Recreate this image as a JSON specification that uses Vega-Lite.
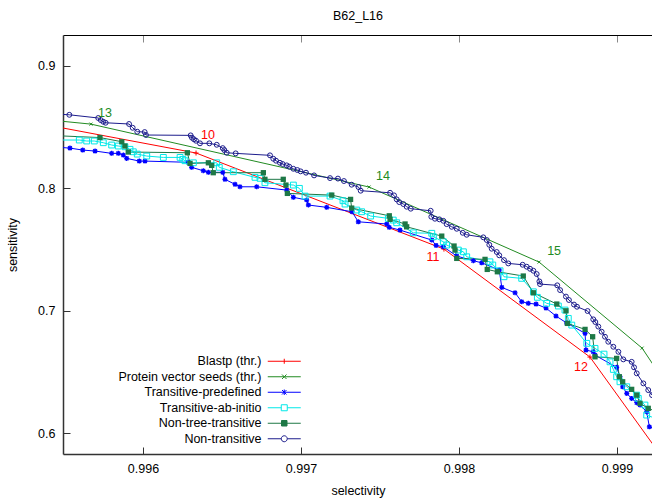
{
"$schema":"https://vega.github.io/schema/vega-lite/v6.json",
"width":590,"height":419,
"autosize":"none",
"padding":{"left":63,"top":35,"right":0,"bottom":44},
"title":{"text":"B62_L16","fontSize":12.5,"font":"Liberation Sans","fontWeight":"normal","color":"black","offset":12},
"config":{"view":{"stroke":null},"font":"Liberation Sans"},
"datasets":{
"pts":[
{"s":"B","x":0.995300,"y":0.8539},{"s":"B","x":0.996336,"y":0.8288},{"s":"B","x":0.997905,"y":0.7503},{"s":"B","x":0.998829,"y":0.6621},{"s":"B","x":0.999500,"y":0.5420},
{"s":"P","x":0.995222,"y":0.8581},{"s":"P","x":0.995671,"y":0.8524},{"s":"P","x":0.997431,"y":0.8010},{"s":"P","x":0.998507,"y":0.7397},{"s":"P","x":0.999159,"y":0.6694},{"s":"P","x":0.999526,"y":0.5984},
{"s":"TP","x":0.995348,"y":0.8345},{"s":"TP","x":0.995538,"y":0.8328},{"s":"TP","x":0.995619,"y":0.8312},{"s":"TP","x":0.995697,"y":0.8304},{"s":"TP","x":0.995802,"y":0.8285},{"s":"TP","x":0.995844,"y":0.8285},{"s":"TP","x":0.995876,"y":0.8271},{"s":"TP","x":0.995897,"y":0.8244},{"s":"TP","x":0.995977,"y":0.8222},{"s":"TP","x":0.996013,"y":0.8222},{"s":"TP","x":0.996287,"y":0.8212},{"s":"TP","x":0.996308,"y":0.8171},{"s":"TP","x":0.996382,"y":0.8143},{"s":"TP","x":0.996414,"y":0.8130},{"s":"TP","x":0.996505,"y":0.8130},{"s":"TP","x":0.996519,"y":0.8073},{"s":"TP","x":0.996583,"y":0.8032},{"s":"TP","x":0.996614,"y":0.8012},{"s":"TP","x":0.996720,"y":0.8012},{"s":"TP","x":0.996910,"y":0.7985},{"s":"TP","x":0.996952,"y":0.7926},{"s":"TP","x":0.997036,"y":0.7904},{"s":"TP","x":0.997047,"y":0.7863},{"s":"TP","x":0.997163,"y":0.7844},{"s":"TP","x":0.997323,"y":0.7808},{"s":"TP","x":0.997363,"y":0.7726},{"s":"TP","x":0.997543,"y":0.7708},{"s":"TP","x":0.997559,"y":0.7681},{"s":"TP","x":0.997627,"y":0.7658},{"s":"TP","x":0.997828,"y":0.7577},{"s":"TP","x":0.997855,"y":0.7533},{"s":"TP","x":0.997901,"y":0.7522},{"s":"TP","x":0.997986,"y":0.7446},{"s":"TP","x":0.998091,"y":0.7408},{"s":"TP","x":0.998144,"y":0.7391},{"s":"TP","x":0.998255,"y":0.7332},{"s":"TP","x":0.998271,"y":0.7190},{"s":"TP","x":0.998355,"y":0.7146},{"s":"TP","x":0.998397,"y":0.7073},{"s":"TP","x":0.998439,"y":0.7060},{"s":"TP","x":0.998488,"y":0.7054},{"s":"TP","x":0.998551,"y":0.7021},{"s":"TP","x":0.998614,"y":0.6956},{"s":"TP","x":0.998682,"y":0.6899},{"s":"TP","x":0.998798,"y":0.6815},{"s":"TP","x":0.998804,"y":0.6678},{"s":"TP","x":0.998850,"y":0.6664},{"s":"TP","x":0.998861,"y":0.6637},{"s":"TP","x":0.998998,"y":0.6537},{"s":"TP","x":0.999019,"y":0.6460},{"s":"TP","x":0.999036,"y":0.6378},{"s":"TP","x":0.999062,"y":0.6324},{"s":"TP","x":0.999093,"y":0.6283},{"s":"TP","x":0.999125,"y":0.6248},{"s":"TP","x":0.999146,"y":0.6229},{"s":"TP","x":0.999188,"y":0.6174},{"s":"TP","x":0.999205,"y":0.6051},{"s":"TP","x":0.999304,"y":0.6008},
{"s":"TA","x":0.995348,"y":0.8394},{"s":"TA","x":0.995597,"y":0.8394},{"s":"TA","x":0.995644,"y":0.8386},{"s":"TA","x":0.995692,"y":0.8386},{"s":"TA","x":0.995749,"y":0.8372},{"s":"TA","x":0.995802,"y":0.8353},{"s":"TA","x":0.995844,"y":0.8345},{"s":"TA","x":0.995886,"y":0.8339},{"s":"TA","x":0.995918,"y":0.8318},{"s":"TA","x":0.995939,"y":0.8298},{"s":"TA","x":0.995964,"y":0.8279},{"s":"TA","x":0.996024,"y":0.8263},{"s":"TA","x":0.996129,"y":0.8252},{"s":"TA","x":0.996235,"y":0.8252},{"s":"TA","x":0.996252,"y":0.8236},{"s":"TA","x":0.996266,"y":0.8225},{"s":"TA","x":0.996319,"y":0.8208},{"s":"TA","x":0.996467,"y":0.8208},{"s":"TA","x":0.996483,"y":0.8171},{"s":"TA","x":0.996572,"y":0.8135},{"s":"TA","x":0.996709,"y":0.8089},{"s":"TA","x":0.996741,"y":0.8081},{"s":"TA","x":0.996772,"y":0.8045},{"s":"TA","x":0.996952,"y":0.8026},{"s":"TA","x":0.996990,"y":0.7999},{"s":"TA","x":0.997026,"y":0.7936},{"s":"TA","x":0.997184,"y":0.7936},{"s":"TA","x":0.997266,"y":0.7898},{"s":"TA","x":0.997279,"y":0.7871},{"s":"TA","x":0.997353,"y":0.7822},{"s":"TA","x":0.997384,"y":0.7808},{"s":"TA","x":0.997441,"y":0.7773},{"s":"TA","x":0.997553,"y":0.7754},{"s":"TA","x":0.997584,"y":0.7740},{"s":"TA","x":0.997606,"y":0.7718},{"s":"TA","x":0.997711,"y":0.7636},{"s":"TA","x":0.997828,"y":0.7632},{"s":"TA","x":0.997838,"y":0.7604},{"s":"TA","x":0.997901,"y":0.7563},{"s":"TA","x":0.997922,"y":0.7536},{"s":"TA","x":0.997996,"y":0.7495},{"s":"TA","x":0.998028,"y":0.7481},{"s":"TA","x":0.998049,"y":0.7440},{"s":"TA","x":0.998196,"y":0.7399},{"s":"TA","x":0.998214,"y":0.7373},{"s":"TA","x":0.998260,"y":0.7326},{"s":"TA","x":0.998285,"y":0.7277},{"s":"TA","x":0.998397,"y":0.7264},{"s":"TA","x":0.998471,"y":0.7154},{"s":"TA","x":0.998496,"y":0.7109},{"s":"TA","x":0.998555,"y":0.7060},{"s":"TA","x":0.998629,"y":0.7038},{"s":"TA","x":0.998671,"y":0.7005},{"s":"TA","x":0.998692,"y":0.6937},{"s":"TA","x":0.998714,"y":0.6882},{"s":"TA","x":0.998809,"y":0.6733},{"s":"TA","x":0.998861,"y":0.6692},{"s":"TA","x":0.998918,"y":0.6645},{"s":"TA","x":0.998956,"y":0.6582},{"s":"TA","x":0.998977,"y":0.6520},{"s":"TA","x":0.998998,"y":0.6460},{"s":"TA","x":0.999019,"y":0.6419},{"s":"TA","x":0.999062,"y":0.6378},{"s":"TA","x":0.999125,"y":0.6310},{"s":"TA","x":0.999135,"y":0.6283},{"s":"TA","x":0.999177,"y":0.6229},{"s":"TA","x":0.999188,"y":0.6147},{"s":"TA","x":0.999304,"y":0.6090},
{"s":"NT","x":0.995348,"y":0.8435},{"s":"NT","x":0.995728,"y":0.8414},{"s":"NT","x":0.995866,"y":0.8380},{"s":"NT","x":0.995886,"y":0.8345},{"s":"NT","x":0.995907,"y":0.8296},{"s":"NT","x":0.996281,"y":0.8290},{"s":"NT","x":0.996298,"y":0.8203},{"s":"NT","x":0.996414,"y":0.8208},{"s":"NT","x":0.996435,"y":0.8187},{"s":"NT","x":0.996445,"y":0.8127},{"s":"NT","x":0.996762,"y":0.8127},{"s":"NT","x":0.996772,"y":0.8073},{"s":"NT","x":0.996888,"y":0.8073},{"s":"NT","x":0.996905,"y":0.8026},{"s":"NT","x":0.996914,"y":0.7958},{"s":"NT","x":0.997195,"y":0.7944},{"s":"NT","x":0.997314,"y":0.7909},{"s":"NT","x":0.997321,"y":0.7838},{"s":"NT","x":0.997559,"y":0.7775},{"s":"NT","x":0.997564,"y":0.7746},{"s":"NT","x":0.997659,"y":0.7708},{"s":"NT","x":0.997669,"y":0.7685},{"s":"NT","x":0.997891,"y":0.7609},{"s":"NT","x":0.997969,"y":0.7528},{"s":"NT","x":0.997975,"y":0.7495},{"s":"NT","x":0.997986,"y":0.7427},{"s":"NT","x":0.998165,"y":0.7419},{"s":"NT","x":0.998179,"y":0.7337},{"s":"NT","x":0.998243,"y":0.7318},{"s":"NT","x":0.998407,"y":0.7283},{"s":"NT","x":0.998471,"y":0.7146},{"s":"NT","x":0.998619,"y":0.7054},{"s":"NT","x":0.998677,"y":0.6999},{"s":"NT","x":0.998686,"y":0.6896},{"s":"NT","x":0.998798,"y":0.6847},{"s":"NT","x":0.998846,"y":0.6787},{"s":"NT","x":0.998861,"y":0.6623},{"s":"NT","x":0.998998,"y":0.6610},{"s":"NT","x":0.999015,"y":0.6460},{"s":"NT","x":0.999036,"y":0.6419},{"s":"NT","x":0.999093,"y":0.6357},{"s":"NT","x":0.999125,"y":0.6310},{"s":"NT","x":0.999146,"y":0.6243},{"s":"NT","x":0.999198,"y":0.6202},{"s":"NT","x":0.999304,"y":0.6147},
{"s":"N","x":0.995348,"y":0.8614},{"s":"N","x":0.995534,"y":0.8600},{"s":"N","x":0.995717,"y":0.8574},{"s":"N","x":0.995733,"y":0.8557},{"s":"N","x":0.995749,"y":0.8543},{"s":"N","x":0.995764,"y":0.8535},{"s":"N","x":0.995912,"y":0.8525},{"s":"N","x":0.995935,"y":0.8494},{"s":"N","x":0.995964,"y":0.8462},{"s":"N","x":0.996011,"y":0.8459},{"s":"N","x":0.996019,"y":0.8435},{"s":"N","x":0.996302,"y":0.8432},{"s":"N","x":0.996310,"y":0.8413},{"s":"N","x":0.996323,"y":0.8400},{"s":"N","x":0.996336,"y":0.8388},{"s":"N","x":0.996361,"y":0.8367},{"s":"N","x":0.996420,"y":0.8367},{"s":"N","x":0.996467,"y":0.8355},{"s":"N","x":0.996505,"y":0.8328},{"s":"N","x":0.996515,"y":0.8312},{"s":"N","x":0.996530,"y":0.8290},{"s":"N","x":0.996587,"y":0.8285},{"s":"N","x":0.996804,"y":0.8269},{"s":"N","x":0.996825,"y":0.8241},{"s":"N","x":0.996842,"y":0.8225},{"s":"N","x":0.996867,"y":0.8208},{"s":"N","x":0.996884,"y":0.8198},{"s":"N","x":0.996910,"y":0.8187},{"s":"N","x":0.996926,"y":0.8176},{"s":"N","x":0.996952,"y":0.8159},{"s":"N","x":0.996977,"y":0.8149},{"s":"N","x":0.996998,"y":0.8138},{"s":"N","x":0.997032,"y":0.8127},{"s":"N","x":0.997083,"y":0.8105},{"s":"N","x":0.997184,"y":0.8083},{"s":"N","x":0.997234,"y":0.8079},{"s":"N","x":0.997272,"y":0.8059},{"s":"N","x":0.997321,"y":0.8029},{"s":"N","x":0.997364,"y":0.8010},{"s":"N","x":0.997378,"y":0.7980},{"s":"N","x":0.997564,"y":0.7963},{"s":"N","x":0.997589,"y":0.7942},{"s":"N","x":0.997606,"y":0.7909},{"s":"N","x":0.997622,"y":0.7887},{"s":"N","x":0.997648,"y":0.7871},{"s":"N","x":0.997669,"y":0.7849},{"s":"N","x":0.997695,"y":0.7833},{"s":"N","x":0.997821,"y":0.7816},{"s":"N","x":0.997825,"y":0.7767},{"s":"N","x":0.997848,"y":0.7751},{"s":"N","x":0.997876,"y":0.7746},{"s":"N","x":0.997901,"y":0.7734},{"s":"N","x":0.997922,"y":0.7707},{"s":"N","x":0.997954,"y":0.7685},{"s":"N","x":0.997986,"y":0.7669},{"s":"N","x":0.998024,"y":0.7636},{"s":"N","x":0.998049,"y":0.7620},{"s":"N","x":0.998154,"y":0.7599},{"s":"N","x":0.998176,"y":0.7577},{"s":"N","x":0.998192,"y":0.7538},{"s":"N","x":0.998207,"y":0.7506},{"s":"N","x":0.998239,"y":0.7479},{"s":"N","x":0.998255,"y":0.7452},{"s":"N","x":0.998285,"y":0.7413},{"s":"N","x":0.998312,"y":0.7386},{"s":"N","x":0.998403,"y":0.7375},{"s":"N","x":0.998429,"y":0.7359},{"s":"N","x":0.998450,"y":0.7342},{"s":"N","x":0.998471,"y":0.7326},{"s":"N","x":0.998492,"y":0.7299},{"s":"N","x":0.998509,"y":0.7239},{"s":"N","x":0.998513,"y":0.7217},{"s":"N","x":0.998622,"y":0.7207},{"s":"N","x":0.998640,"y":0.7168},{"s":"N","x":0.998677,"y":0.7115},{"s":"N","x":0.998696,"y":0.7087},{"s":"N","x":0.998728,"y":0.7050},{"s":"N","x":0.998747,"y":0.7032},{"s":"N","x":0.998814,"y":0.6997},{"s":"N","x":0.998850,"y":0.6929},{"s":"N","x":0.998863,"y":0.6907},{"s":"N","x":0.998882,"y":0.6870},{"s":"N","x":0.998903,"y":0.6828},{"s":"N","x":0.998924,"y":0.6787},{"s":"N","x":0.998945,"y":0.6746},{"s":"N","x":0.998977,"y":0.6705},{"s":"N","x":0.999009,"y":0.6664},{"s":"N","x":0.999040,"y":0.6602},{"s":"N","x":0.999093,"y":0.6582},{"s":"N","x":0.999108,"y":0.6537},{"s":"N","x":0.999125,"y":0.6488},{"s":"N","x":0.999167,"y":0.6406},{"s":"N","x":0.999198,"y":0.6351},{"s":"N","x":0.999222,"y":0.6310},{"s":"N","x":0.999304,"y":0.6229}
],
"lbl":[
{"t":"10","s":"B","x":0.996412,"y":0.8435},{"t":"11","s":"B","x":0.997836,"y":0.7438},{"t":"12","s":"B","x":0.998772,"y":0.6539},
{"t":"13","s":"P","x":0.995760,"y":0.8614},{"t":"14","s":"P","x":0.997519,"y":0.8100},{"t":"15","s":"P","x":0.998602,"y":0.7487}
]},
"resolve":{"axis":{"x":"independent","y":"independent"}},
"layer":[
{
"data":{"name":"pts"},
"encoding":{
 "x":{"field":"x","type":"quantitative","scale":{"domain":[0.995494,0.999228],"nice":false,"zero":false},
  "axis":{"values":[0.996,0.997,0.998,0.999],"format":".3f","grid":false,"tickSize":-7,"tickColor":"#333","domainColor":"#333","domainWidth":1.5,"labelFontSize":12.5,"labelFont":"Liberation Sans","labelColor":"black","labelPadding":15,"title":"selectivity","titleFont":"Liberation Sans","titleFontSize":12.5,"titleFontWeight":"normal","titleColor":"black","titlePadding":10}},
 "y":{"field":"y","type":"quantitative","scale":{"domain":[0.5829,0.9252],"nice":false,"zero":false},
  "axis":{"values":[0.6,0.7,0.8,0.9],"format":".1f","grid":false,"tickSize":-7,"tickColor":"#333","domainColor":"#333","domainWidth":1.5,"labelFontSize":12.5,"labelFont":"Liberation Sans","labelColor":"black","labelPadding":15,"title":"sensitivity","titleFont":"Liberation Sans","titleFontSize":12.5,"titleFontWeight":"normal","titleColor":"black","titlePadding":18}}
},
"layer":[
 {"mark":{"type":"line","strokeWidth":1,"clip":true},
  "encoding":{"color":{"field":"s","type":"nominal","scale":{"domain":["B","P","TP","TA","NT","N"],"range":["#ff0000","#228b22","#0000ff","#00e8e8","#1e7846","#1c1c8c"]},
   "legend":{"orient":"none","legendX":215,"legendY":320,"title":null,"direction":"vertical","padding":0,"labelAlign":"right","labelOffset":-29,"labelFontSize":12.5,"labelFont":"Liberation Sans","labelColor":"black","labelLimit":300,"rowPadding":2.5,"symbolSize":100,"symbolStrokeWidth":1,
    "labelExpr":"datum.value==='B'?'Blastp (thr.)':datum.value==='P'?'Protein vector seeds (thr.)':datum.value==='TP'?'Transitive-predefined':datum.value==='TA'?'Transitive-ab-initio':datum.value==='NT'?'Non-tree-transitive':'Non-transitive'",
    "encode":{"symbols":{"update":{
      "shape":{"signal":"datum.value==='B'?'M-3.3,0H3.3M0,-0.5V0.5':datum.value==='P'?'M-3.3,0H3.3M-0.45,-0.45L0.45,0.45M-0.45,0.45L0.45,-0.45':datum.value==='TP'?'M-3.3,0H3.3M0,-0.55V0.55M-0.45,-0.45L0.45,0.45M-0.45,0.45L0.45,-0.45':datum.value==='TA'?'M-3.3,0H-0.6M0.6,0H3.3M-0.6,-0.6H0.6V0.6H-0.6Z':datum.value==='NT'?'M-3.3,0H3.3M-0.55,-0.55H0.55V0.55H-0.55Z':'M-3.3,0H-0.6M0.6,0H3.3M-0.6,0A0.6,0.6 0 1,0 0.6,0A0.6,0.6 0 1,0 -0.6,0Z'"},
      "fill":{"signal":"datum.value==='NT'?'#1e7846':'transparent'"},
      "strokeWidth":{"value":1}}}}}}}},
 {"transform":[{"filter":"datum.s==='B'"}],"mark":{"type":"point","shape":"M-1,0H1M0,-1V1","size":25,"strokeWidth":1,"color":"#ff0000","filled":false,"opacity":1,"clip":true}},
 {"transform":[{"filter":"datum.s==='P'"}],"mark":{"type":"point","shape":"M-1,-1L1,1M-1,1L1,-1","size":9,"strokeWidth":1,"color":"#228b22","filled":false,"opacity":1,"clip":true}},
 {"transform":[{"filter":"datum.s==='TP'"}],"mark":{"type":"point","shape":"M-1,0H1M0,-1V1M-0.75,-0.75L0.75,0.75M-0.75,0.75L0.75,-0.75","size":25,"strokeWidth":1.3,"color":"#0000ff","filled":false,"opacity":1,"clip":true}},
 {"transform":[{"filter":"datum.s==='TA'"}],"mark":{"type":"point","shape":"square","size":34,"strokeWidth":1,"color":"#00e8e8","filled":false,"opacity":1,"clip":true}},
 {"transform":[{"filter":"datum.s==='NT'"}],"mark":{"type":"point","shape":"square","size":28,"color":"#1e7846","filled":true,"opacity":1,"clip":true}},
 {"transform":[{"filter":"datum.s==='N'"}],"mark":{"type":"point","shape":"circle","size":24,"strokeWidth":1,"color":"#1c1c8c","filled":false,"opacity":1,"clip":true}}
]
},
{
"data":{"name":"lbl"},
"encoding":{
 "x":{"field":"x","type":"quantitative","axis":{"orient":"top","values":[0.996,0.997,0.998,0.999],"labels":false,"grid":false,"tickSize":-7,"tickColor":"#888","domainColor":"black","domainWidth":1,"title":null}},
 "y":{"field":"y","type":"quantitative","axis":null},
 "text":{"field":"t"}
},
"layer":[
 {"transform":[{"filter":"datum.s==='B'"}],"mark":{"type":"text","font":"Liberation Sans","fontSize":12.5,"color":"#ff0000","align":"center","baseline":"middle"}},
 {"transform":[{"filter":"datum.s==='P'"}],"mark":{"type":"text","font":"Liberation Sans","fontSize":12.5,"color":"#228b22","align":"center","baseline":"middle"}}
]
}
]
}
